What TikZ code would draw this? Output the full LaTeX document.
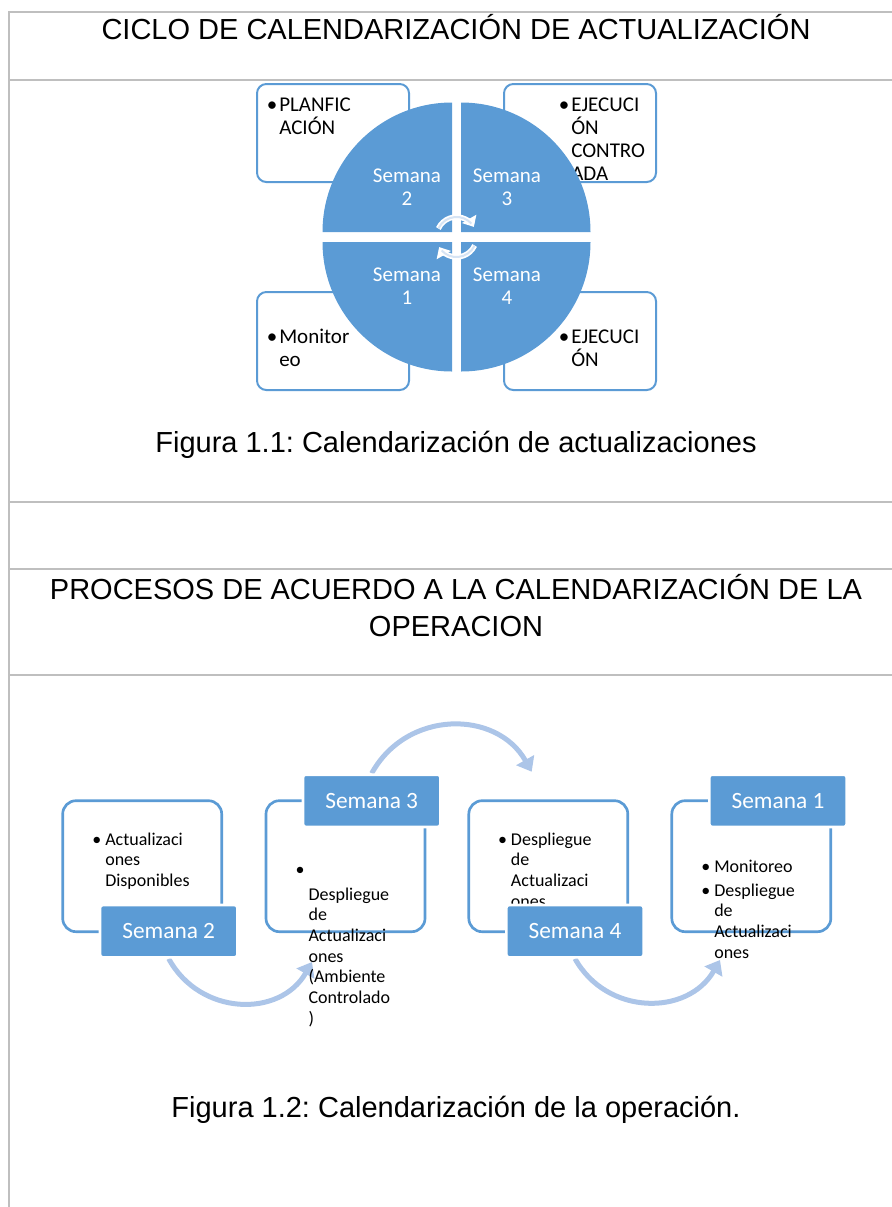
\documentclass[tikz,border=0pt]{standalone}
\usepackage{fontspec}
\setmainfont{Liberation Sans}
\newfontfamily\calibri{Carlito}
\usepackage{tikz}
\usetikzlibrary{arrows.meta}
\usetikzlibrary{positioning}
\usetikzlibrary{backgrounds}
\frenchspacing

\definecolor{azul}{RGB}{91,155,213}
\definecolor{azulclaro}{RGB}{172,197,232}
\definecolor{rejilla}{RGB}{191,191,191}
\definecolor{palido}{RGB}{214,228,244}

\tikzset{
    linea/.style={rejilla, line width=1.6pt},
    titulo/.style={font=\fontsize{21.75}{27.75}\selectfont, inner sep=0pt},
    cajita/.style={draw=azul, line width=1.5pt, fill=white, rounded corners=7pt,
        minimum width=114pt, minimum height=73.5pt, inner sep=0pt},
    caja/.style={draw=azul, line width=2pt, fill=white, rounded corners=10pt,
        minimum width=119.25pt, minimum height=98.25pt, inner sep=0pt},
    etiqueta/.style={fill=azul, draw=white, line width=2pt, rounded corners=2pt,
        minimum width=103pt, minimum height=39.2pt, inner sep=0pt, text=white,
        font=\calibri\fontsize{17.5}{20}\selectfont},
    textocaja/.style={font=\calibri\fontsize{15.75}{17.25}\selectfont, align=left, inner sep=0pt},
    textoflujo/.style={font=\calibri\fontsize{13.5}{15.5}\selectfont, align=left, inner sep=0pt},
    semcirc/.style={font=\calibri\fontsize{15.75}{17.25}\selectfont, text=white, align=center, inner sep=0pt},
    giro/.style={white, line width=4pt, -{Triangle[length=7pt, width=12pt]}},
    flecha/.style={azulclaro, line width=3.75pt, -{Triangle[length=10pt, width=15pt]}}
}

\begin{document}
\begin{tikzpicture}[x=0.75pt, y=-0.75pt]
    \useasboundingbox (0,0) rectangle (892,1207);

    % tabla
    \foreach \y in {12,80,502,569,675}
        \draw[linea] (9,\y) -- (892,\y);
    \draw[linea] (9,11) -- (9,1207);

    \node[titulo, anchor=base] (titulo1) at (456,39.5) {CICLO DE CALENDARIZACIÓN DE ACTUALIZACIÓN};

    % ciclo (base = ultima linea)
    \node[cajita] (plan) at (333,133) {};
    \node[cajita] (ejecc) at (580,133) {};
    \node[cajita] (monit) at (333,341) {};
    \node[cajita] (ejec) at (580,341) {};
    \node[textocaja, anchor=base west] (tplan) at (279,134) {\llap{•\hspace{1.5pt}}PLANFIC\\ACIÓN};
    \node[textocaja, anchor=base west] (tejecc) at (571,180) {\llap{•\hspace{1.5pt}}EJECUCI\\ÓN\\CONTRO\\ADA};
    \node[textocaja, anchor=base west] (tmonit) at (279,366) {\llap{•\hspace{1.5pt}}Monitor\\eo};
    \node[textocaja, anchor=base west] (tejec) at (571,366) {\llap{•\hspace{1.5pt}}EJECUCI\\ÓN};

    \fill[azul] (452,232) -- (322.5,232) arc[start angle=180, end angle=270, radius=129.5] -- cycle;
    \fill[azul] (461,232) -- (461,102.5) arc[start angle=270, end angle=360, radius=129.5] -- cycle;
    \fill[azul] (452,242) -- (452,371.5) arc[start angle=90, end angle=180, radius=129.5] -- cycle;
    \fill[azul] (461,242) -- (590.5,242) arc[start angle=0, end angle=90, radius=129.5] -- cycle;

    \node[semcirc, anchor=base] (sem2) at (407,205) {Semana\\2};
    \node[semcirc, anchor=base] (sem3) at (507,205) {Semana\\3};
    \node[semcirc, anchor=base] (sem1) at (407,304) {Semana\\1};
    \node[semcirc, anchor=base] (sem4) at (507,304) {Semana\\4};

    \draw[giro] (438.4,228.5) arc[start angle=205, end angle=330, radius=20];
    \draw[giro] (474.6,245.5) arc[start angle=25, end angle=150, radius=20];
    \draw[palido, line width=1.5pt] (438.4,228.5) arc[start angle=205, end angle=318, radius=20];
    \draw[palido, line width=1.5pt] (474.6,245.5) arc[start angle=25, end angle=138, radius=20];

    \node[titulo, anchor=base] (fig1) at (456,452) {Figura 1.1: Calendarización de actualizaciones};

    \node[titulo, anchor=base, align=center] (titulo2) at (456,636)
        {PROCESOS DE ACUERDO A LA CALENDARIZACIÓN DE LA\\OPERACION};

    % operacion
    \node[caja] (act) at (142.2,866.2) {};
    \node[caja] (desc) at (345.5,866.2) {};
    \node[caja] (desp) at (548.3,866.2) {};
    \node[caja] (mon) at (751.3,866.2) {};

    \node[textoflujo, anchor=base west] (tact) at (105,886.5) {\llap{•\hspace{3pt}}Actualizaci\\ones\\Disponibles};
    \node[textoflujo, anchor=base west] (tdesc) at (308.3,1024)
        {\llap{•\hspace{3pt}}\\[3.2pt]Despliegue\\de\\Actualizaci\\ones\\(Ambiente\\Controlado\\)};
    \node[textoflujo, anchor=base west] (tdesp) at (510.7,907) {\llap{•\hspace{3pt}}Despliegue\\de\\Actualizaci\\ones};
    \node[textoflujo, anchor=base west] (tmon) at (714,958)
        {\llap{•\hspace{3pt}}Monitoreo\\[2pt]\llap{•\hspace{3pt}}Despliegue\\de\\Actualizaci\\ones};

    \node[etiqueta] (sem2b) at (168.7,931.2) {Semana 2};
    \node[etiqueta] (sem3b) at (371.7,800.8) {Semana 3};
    \node[etiqueta] (sem4b) at (575,931.2) {Semana 4};
    \node[etiqueta] (sem1b) at (778,800.8) {Semana 1};

    \coordinate (finA) at (312,962);
    \coordinate (finB) at (531.7,771.7);
    \coordinate (finC) at (720,960);
    \begin{scope}[on background layer]
        \draw[flecha] (sem2b.south) .. controls (200,1016) and (280,1018) .. (finA);
        \draw[flecha] (sem3b.north) .. controls (406.8,709.6) and (496.6,709.6) .. (finB);
        \draw[flecha] (sem4b.south) .. controls (607,1016) and (688,1016) .. (finC);
    \end{scope}

    \node[titulo, anchor=base] (fig2) at (456,1117) {Figura 1.2: Calendarización de la operación.};
\end{tikzpicture}
\end{document}
